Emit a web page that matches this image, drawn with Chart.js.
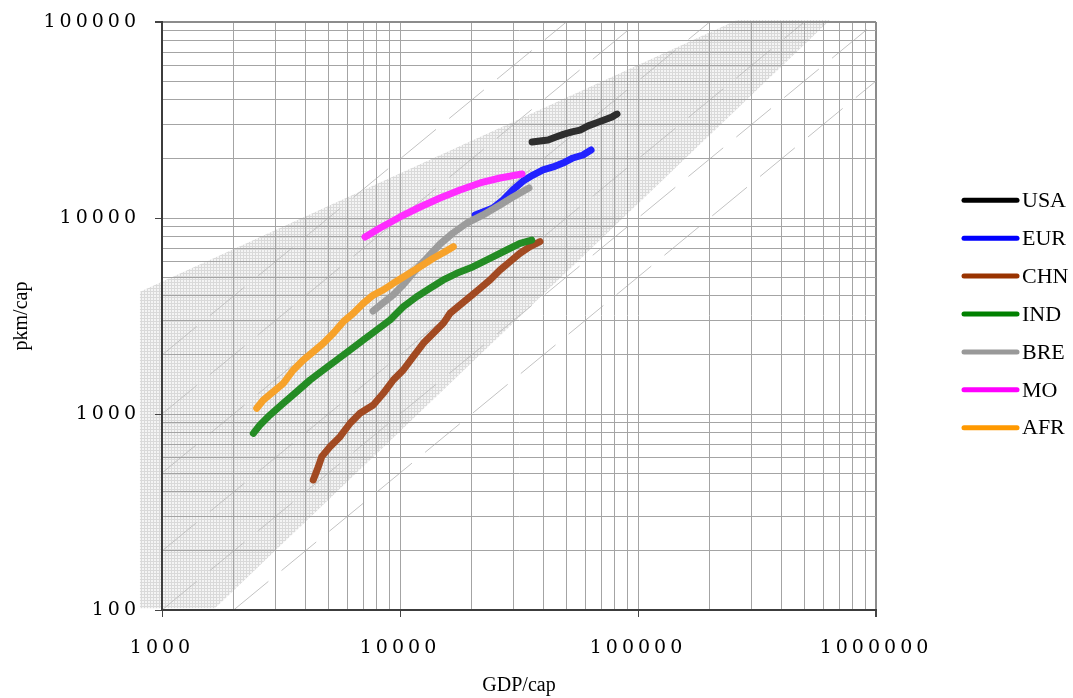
<!DOCTYPE html>
<html>
<head>
<meta charset="utf-8">
<title>pkm/cap vs GDP/cap</title>
<script src="https://cdn.jsdelivr.net/npm/chart.js@4.4.1/dist/chart.umd.min.js"></script>
<style>
  html, body { margin: 0; padding: 0; background: #fff; }
  #wrap { width: 1073px; height: 698px; }
</style>
</head>
<body>
<div id="wrap"><canvas id="chart" width="1073" height="698"></canvas></div>
<script>
// values (GDP/cap -> pkm/cap)
const seriesNames = ['USA', 'EUR', 'CHN', 'IND', 'BRE', 'MO', 'AFR'];

const usaGdp = [35900, 38700, 41900, 45200, 48900, 52800, 57100, 61700, 66600, 72000, 77800, 81600];
const usaPkm = [24400, 24700, 25000, 25900, 26800, 27500, 28100, 29500, 30500, 31600, 32800, 33900];

const eurGdp = [20700, 22300, 24600, 27100, 29800, 32900, 36200, 39900, 44000, 48400, 53300, 58700, 63500];
const eurPkm = [10360, 10730, 11250, 12360, 13900, 15440, 16570, 17580, 18210, 19080, 20240, 20960, 22230];

const chnGdp = [4320, 4540, 4690, 5080, 5600, 6170, 6790, 7720, 8510, 9370, 10320, 11370, 12530, 13800,
                15200, 16230, 17870, 19690, 21690, 23880, 26320, 28990, 31930, 35180, 38740];
const chnPkm = [461, 539, 606, 681, 766, 897, 1008, 1112, 1275, 1491, 1677, 1961, 2295, 2580,
                2901, 3265, 3599, 3967, 4377, 4828, 5429, 5989, 6606, 7140, 7572];

const indGdp = [2420, 2580, 2840, 3230, 3680, 4190, 4760, 5420, 6170, 7010, 7980, 9080, 10320, 11750,
                13370, 15200, 17310, 20320, 23880, 28070, 31930, 35770];
const indPkm = [797, 879, 988, 1134, 1299, 1491, 1677, 1886, 2121, 2386, 2683, 3017, 3528, 3967,
                4377, 4828, 5223, 5642, 6230, 6866, 7428, 7721];

const breGdp = [7700, 8480, 9350, 10290, 11340, 12990, 14730, 16700, 19120, 22330, 26320, 29840, 34830];
const brePkm = [3354, 3685, 4047, 4552, 5241, 6251, 7368, 8384, 9430, 10360, 11650, 12800, 14230];

const moGdp = [7130, 8240, 10000, 12140, 14730, 17870, 21690, 26320, 32550];
const moPkm = [8000, 8890, 10120, 11380, 12650, 13900, 15090, 16000, 16770];

const afrGdp = [2500, 2665, 2936, 3233, 3562, 3924, 4323, 4762, 5245, 5778, 6365, 7012, 7723, 8508,
                9372, 10670, 12140, 13800, 15460, 16750];
const afrPkm = [1070, 1179, 1299, 1434, 1677, 1886, 2079, 2295, 2580, 2958, 3265, 3672, 4047, 4294,
                4643, 5119, 5642, 6230, 6731, 7140];

const seriesGdp = [usaGdp, eurGdp, chnGdp, indGdp, breGdp, moGdp, afrGdp];
const seriesPkm = [usaPkm, eurPkm, chnPkm, indPkm, brePkm, moPkm, afrPkm];

// axis decades (labelled ticks)
const xMajorTicks = [1000, 10000, 100000, 1000000];
const yMajorTicks = [100, 1000, 10000, 100000];

// shaded band corners and dashed guide lines pkm = k * GDP
const bandGdp = [808, 260600, 640800, 1670, 808];
const bandPkm = [4210, 102400, 102400, 102, 102];
const guideRatios = [2, 1, 0.5, 0.2, 0.1, 0.05];

const lineColors = ['#2e2e2e', '#2222ff', '#a24a22', '#248c24', '#9c9c9c', '#ff2cff', '#f7a22a'];
const legendColors = ['#000000', '#0000ff', '#993300', '#008000', '#999999', '#ff00ff', '#ff9900'];

const tickFont = { family: "'DejaVu Serif', serif", size: 19 };
const titleFont = { family: "'Liberation Serif', serif", size: 20 };

// 1..9 x 10^n grid for a log axis
function logTicks(majors) {
    const out = [];
    majors.forEach((m, i) => {
        if (i === majors.length - 1) { out.push({ value: m, major: true }); return; }
        for (let k = 1; k < 10; k++) out.push({ value: m * k, major: k === 1 });
    });
    return out;
}

function makePattern(ctx) {
    const c = document.createElement('canvas');
    c.width = 3; c.height = 3;
    const p = c.getContext('2d');
    p.fillStyle = '#f4f4f4';
    p.fillRect(0, 0, 3, 3);
    p.fillStyle = '#d9d9d9';
    p.fillRect(0, 0, 3, 1);
    p.fillRect(0, 0, 1, 3);
    return ctx.createPattern(c, 'repeat');
}

// band + dashed guides, under the grid
const bandPlugin = {
    id: 'band',
    beforeDraw(chart) {
        const { ctx, chartArea, scales: { x, y } } = chart;
        ctx.save();
        ctx.fillStyle = makePattern(ctx);
        ctx.beginPath();
        bandGdp.forEach((g, i) => {
            const px = x.getPixelForValue(g);
            const py = y.getPixelForValue(bandPkm[i]);
            if (i === 0) ctx.moveTo(px, py); else ctx.lineTo(px, py);
        });
        ctx.closePath();
        ctx.fill();

        ctx.beginPath();
        ctx.rect(chartArea.left, chartArea.top, chartArea.right - chartArea.left, chartArea.bottom - chartArea.top);
        ctx.clip();
        ctx.strokeStyle = '#c2c2c2';
        ctx.lineWidth = 1;
        ctx.setLineDash([45, 17]);
        guideRatios.forEach(k => {
            const g0 = Math.max(x.min, y.min / k);
            const g1 = Math.min(x.max, y.max / k);
            ctx.beginPath();
            ctx.moveTo(x.getPixelForValue(g0), y.getPixelForValue(g0 * k));
            ctx.lineTo(x.getPixelForValue(g1), y.getPixelForValue(g1 * k));
            ctx.stroke();
        });
        ctx.restore();
    }
};

// spaced tick digits + legend on the right
const textPlugin = {
    id: 'textStuff',
    afterDatasetsDraw(chart) {
        chart.ctx.letterSpacing = '4px';
    },
    afterDraw(chart) {
        const { ctx, chartArea } = chart;
        ctx.letterSpacing = '0px';
        ctx.save();
        const step = 37.9;
        const top = (chartArea.top + chartArea.bottom) / 2 - step * (seriesNames.length - 1) / 2 - 2;
        const x0 = chartArea.right + 88;
        ctx.font = "22px 'Liberation Serif', serif";
        ctx.textBaseline = 'middle';
        ctx.lineCap = 'round';
        seriesNames.forEach((name, i) => {
            const yy = top + i * step;
            ctx.strokeStyle = legendColors[i];
            ctx.lineWidth = 5;
            ctx.beginPath();
            ctx.moveTo(x0, yy);
            ctx.lineTo(x0 + 53, yy);
            ctx.stroke();
            ctx.fillStyle = '#000';
            ctx.fillText(name, x0 + 58, yy + 1);
        });
        ctx.restore();
    }
};

function gridColor(ctx, last) {
    return ctx.tick && ctx.tick.value === last ? '#8c8c8c' : '#a4a4a4';
}

window.addEventListener('DOMContentLoaded', () => {
    const ctx = document.getElementById('chart').getContext('2d');

    new Chart(ctx, {
        type: 'line',
        data: {
            datasets: seriesNames.map((name, i) => ({
                label: name,
                data: seriesGdp[i].map((g, j) => ({ x: g, y: seriesPkm[i][j] })),
                borderColor: lineColors[i],
                backgroundColor: lineColors[i],
                borderWidth: 7,
                borderCapStyle: 'round',
                borderJoinStyle: 'round',
                pointRadius: 0,
                tension: 0,
                order: seriesNames.length - 1 - i
            }))
        },
        options: {
            responsive: false,
            animation: false,
            layout: { padding: { left: 0, top: 22, right: 197, bottom: 0 } },
            plugins: { legend: { display: false }, tooltip: { enabled: false } },
            scales: {
                x: {
                    type: 'logarithmic',
                    min: 1000, max: 1000000,
                    afterBuildTicks: s => { s.ticks = logTicks(xMajorTicks); },
                    afterFit: s => { s.height = 88; s.paddingLeft = 0; s.paddingRight = 0; },
                    ticks: {
                        autoSkip: false, maxRotation: 0, padding: 20, z: 1,
                        color: '#000', font: tickFont,
                        callback: v => xMajorTicks.includes(v) ? String(v) : ''
                    },
                    grid: {
                        color: c => gridColor(c, 1000000),
                        lineWidth: c => (c.tick && c.tick.value === 1000000 ? 2 : 1),
                        tickLength: 7,
                        tickColor: c => (c.tick && xMajorTicks.includes(c.tick.value) ? '#444' : 'rgba(0,0,0,0)')
                    },
                    border: { color: '#3c3c3c', width: 2 },
                    title: { display: true, text: 'GDP/cap', color: '#000', font: titleFont, padding: { top: 0, bottom: 0 } }
                },
                y: {
                    type: 'logarithmic',
                    min: 100, max: 100000,
                    afterBuildTicks: s => { s.ticks = logTicks(yMajorTicks); },
                    afterFit: s => { s.width = 162; s.paddingTop = 0; s.paddingBottom = 0; },
                    ticks: {
                        autoSkip: false, padding: 15, z: 1,
                        color: '#000', font: tickFont,
                        callback: v => yMajorTicks.includes(v) ? String(v) : ''
                    },
                    grid: {
                        color: c => gridColor(c, 100000),
                        lineWidth: c => (c.tick && c.tick.value === 100000 ? 2 : 1),
                        tickLength: 7,
                        tickColor: c => (c.tick && yMajorTicks.includes(c.tick.value) ? '#444' : 'rgba(0,0,0,0)')
                    },
                    border: { color: '#3c3c3c', width: 2 },
                    title: { display: true, text: 'pkm/cap', color: '#000', font: titleFont, padding: { top: 10, bottom: 0 } }
                }
            }
        },
        plugins: [bandPlugin, textPlugin]
    });
});
</script>
</body>
</html>
